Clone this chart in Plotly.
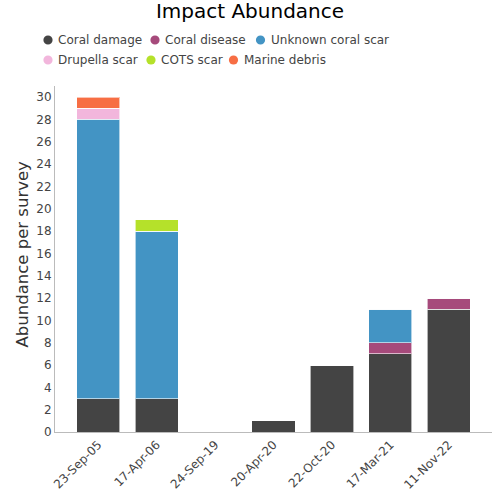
import plotly.graph_objects as go

dates = ["23-Sep-05", "17-Apr-06", "24-Sep-19", "20-Apr-20", "22-Oct-20", "17-Mar-21", "11-Nov-22"]
series_names = ["Coral damage", "Coral disease", "Unknown coral scar", "Drupella scar", "COTS scar", "Marine debris"]
coral_damage = [3, 3, 0, 1, 6, 7, 11]
coral_disease = [0, 0, 0, 0, 0, 1, 1]
unknown_scar = [25, 15, 0, 0, 0, 3, 0]
drupella_scar = [1, 0, 0, 0, 0, 0, 0]
cots_scar = [0, 1, 0, 0, 0, 0, 0]
marine_debris = [1, 0, 0, 0, 0, 0, 0]
colors = ["#444444", "#a64a7b", "#4394c4", "#f2b6dc", "#b5e12a", "#f76e44"]
y_title = "Abundance per survey"

values = [coral_damage, coral_disease, unknown_scar, drupella_scar, cots_scar, marine_debris]

W, H = 500, 500
L, R, T, B = 55, 8, 86, 68
pw, ph = W - L - R, H - T - B

def px_x(p):
    return (p - L) / pw

def px_y(p):
    return 1 - (p - T) / ph

# legend layout (pixel positions of symbol centers, rows)
legend_pos = [(48, 40), (155, 40), (260.5, 40), (48, 60), (151, 60), (233.5, 60)]

fig = go.Figure()
for name, vals, col in zip(series_names, values, colors):
    fig.add_trace(go.Bar(
        x=list(range(len(dates))), y=vals, name=name, showlegend=False,
        marker=dict(color=col, line=dict(color="rgba(255,255,255,0.6)", width=1)),
        width=0.74, hoverinfo="y+name",
    ))

shapes = []
annotations = []
for (cx, cy), name, col in zip(legend_pos, series_names, colors):
    shapes.append(dict(type="circle", xref="paper", yref="paper",
                       xsizemode="pixel", ysizemode="pixel",
                       xanchor=px_x(cx), yanchor=px_y(cy),
                       x0=-4.6, x1=4.6, y0=-4.6, y1=4.6,
                       fillcolor=col, line=dict(width=0)))
    annotations.append(dict(text=name, xref="paper", yref="paper",
                            x=px_x(cx + 8), y=px_y(cy), xanchor="left", yanchor="middle",
                            showarrow=False, font=dict(size=12, color="#444444")))

annotations.append(dict(text=y_title, xref="paper", yref="paper", textangle=-90,
                        x=px_x(21.5), y=px_y(254), xanchor="center", yanchor="middle",
                        showarrow=False, font=dict(size=16.5, color="#333333")))

fig.update_layout(
    barmode="stack",
    width=W, height=H,
    showlegend=False,
    paper_bgcolor="white", plot_bgcolor="white",
    font=dict(family="DejaVu Sans", color="#444444"),
    title=dict(text="Impact Abundance", x=0.5, xanchor="center", yref="container", y=0.992, yanchor="top",
               font=dict(size=20, color="black")),
    margin=dict(l=L, r=R, t=T, b=B, autoexpand=False),
    shapes=shapes,
    annotations=annotations,
    xaxis=dict(
        tickmode="array", tickvals=list(range(len(dates))), ticktext=dates,
        tickangle=-45, range=[-0.74, 6.74], showline=True, linecolor="#bbbbbb",
        linewidth=1, showgrid=False, ticks="", tickfont=dict(size=12, color="#444444"),
    ),
    yaxis=dict(
        range=[0, 31], dtick=2, showline=True, linecolor="#bbbbbb", linewidth=1,
        showgrid=False, zeroline=False, ticks="", tickfont=dict(size=12, color="#444444"),
    ),
)

fig.write_html("out.html", config={"displayModeBar": False},
               post_script="document.body.style.margin='0';document.body.style.padding='0';")
